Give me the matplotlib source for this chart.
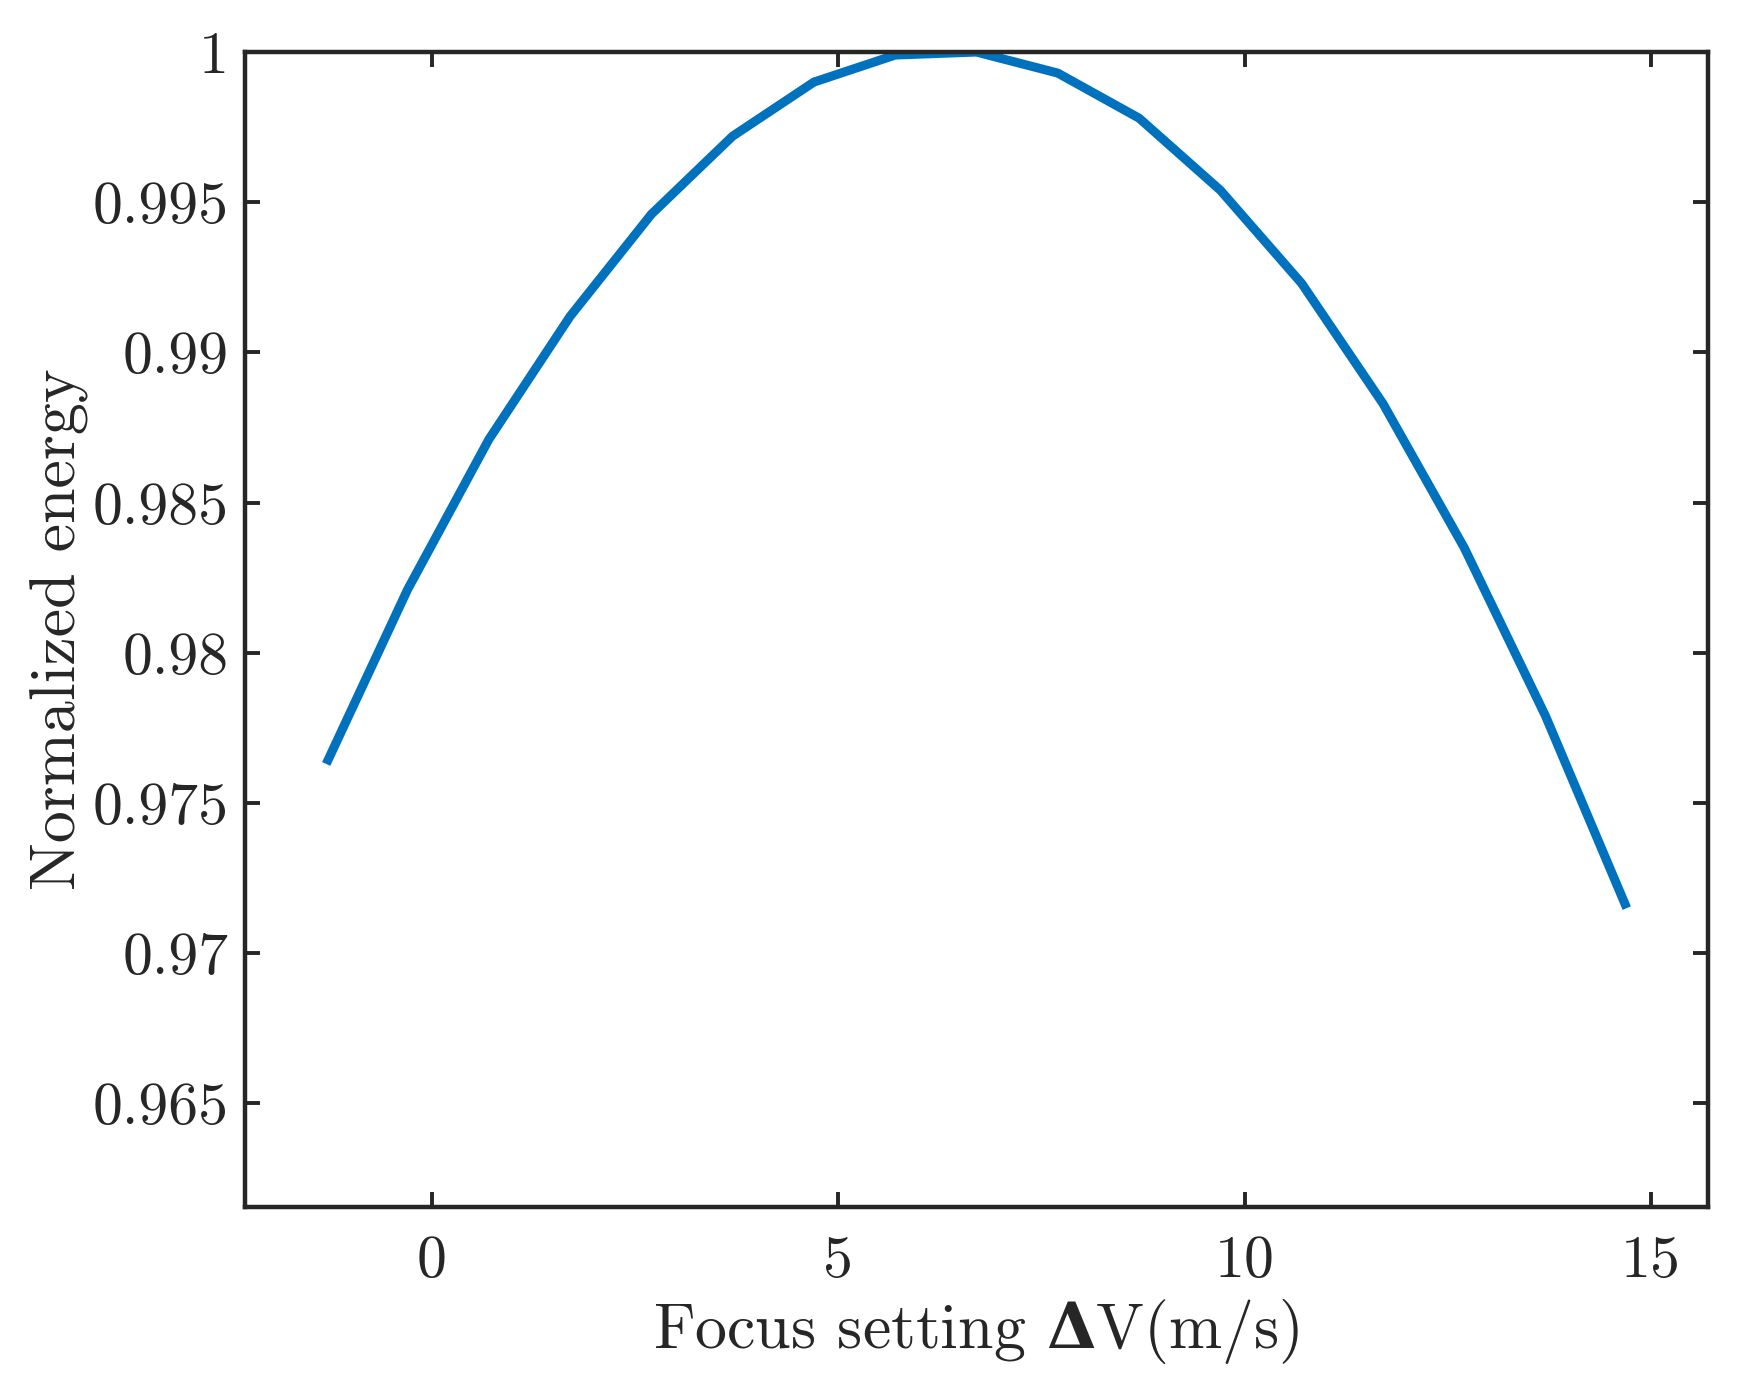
import matplotlib as mpl
mpl.use('Agg')
import matplotlib.pyplot as plt

# focus setting (m/s) and normalized energy
focus_dv = [-1.3, -0.3, 0.7, 1.7, 2.7, 3.7, 4.7, 5.7, 6.7, 7.7, 8.7, 9.7,
            10.7, 11.7, 12.7, 13.7, 14.7]
energy = [0.9763, 0.9821, 0.9871, 0.9912, 0.9946, 0.9972, 0.9990, 0.9999,
          1.0000, 0.9993, 0.9978, 0.9954, 0.9923, 0.9883, 0.9835, 0.9779,
          0.9715]

x_ticks = [0, 5, 10, 15]
y_ticks = [0.965, 0.97, 0.975, 0.98, 0.985, 0.99, 0.995, 1.0]
y_tick_labels = ["0.965", "0.97", "0.975", "0.98", "0.985", "0.99", "0.995", "1"]

plt.rcParams['font.family'] = 'serif'
plt.rcParams['font.serif'] = ['cmr10']
plt.rcParams['mathtext.fontset'] = 'custom'
plt.rcParams['mathtext.rm'] = 'cmr10'
plt.rcParams['mathtext.bf'] = 'DejaVu Serif:bold'
plt.rcParams['axes.unicode_minus'] = False

INK = '#262626'

fig = plt.figure(figsize=(17.42, 13.88), dpi=100)
ax = fig.add_axes([0.1406, 0.1304, 0.8399, 0.8321])

ax.plot(focus_dv, energy, color='#0072BD', linewidth=6.5, solid_capstyle='butt')

ax.set_xlim(-2.3, 15.7)
ax.set_ylim(0.96155, 1.0)
ax.set_xticks(x_ticks)
ax.set_xticklabels([str(t) for t in x_ticks])
ax.set_yticks(y_ticks)
ax.set_yticklabels(y_tick_labels)

for side in ax.spines.values():
    side.set_linewidth(3.2)
    side.set_color(INK)

ax.tick_params(direction='in', length=11, width=2.8, colors=INK,
               labelsize=43, top=True, right=True)
ax.tick_params(axis='x', pad=20)
ax.tick_params(axis='y', pad=12)

ax.set_xlabel(r'Focus setting $\mathbf{\Delta}$V(m/s)', fontsize=46, color=INK, labelpad=6)
ax.set_ylabel('Normalized energy', fontsize=46, color=INK, labelpad=2)

fig.savefig('out.png', dpi=100, facecolor='white')
